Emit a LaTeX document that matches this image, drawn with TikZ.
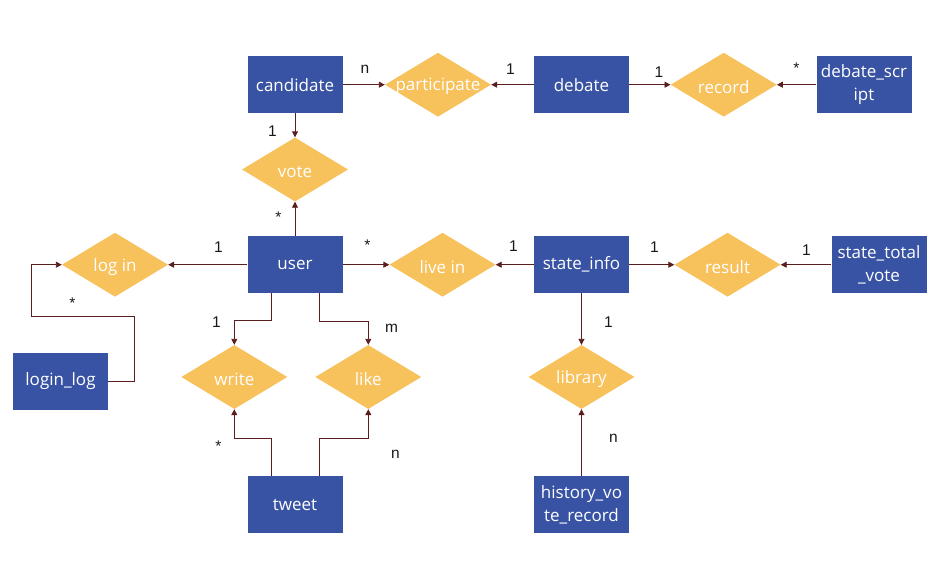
\documentclass[tikz,border=0pt]{standalone}
\usepackage{fontspec}
\setmainfont{Open Sans}
\newfontfamily\lblfont{Liberation Sans}
\usetikzlibrary{shapes.geometric,arrows.meta}
\definecolor{entblue}{RGB}{57,83,164}
\definecolor{relyellow}{RGB}{247,193,92}
\definecolor{linebrown}{RGB}{90,30,30}
\definecolor{lbltext}{RGB}{25,25,25}
\tikzset{
  entity/.style={rectangle, fill=entblue, text=white, minimum width=95pt, minimum height=57pt, inner sep=0pt, align=center, font=\fontsize{17}{23}\selectfont},
  rel/.style={diamond, fill=relyellow, minimum width=106pt, minimum height=64pt, inner sep=0pt},
  reltext/.style={text=white, inner sep=0pt, yshift=-2pt, font=\fontsize{17}{21}\selectfont},
  arr/.style={draw=linebrown, line width=0.9pt, -{Triangle[length=6pt,width=6pt]}},
  card/.style={text=lbltext, inner sep=0pt, font=\lblfont\fontsize{15.5}{18}\selectfont}
}
\begin{document}
\begin{tikzpicture}[x=1pt,y=-1pt]
\path[use as bounding box, fill=white] (0,0) rectangle (949,565);
% entities
\node[entity] (cand) at (295,84.7) {candidate};
\node[entity] (deb) at (581.5,84.7) {debate};
\node[entity] (dscr) at (864,84.7) {debate\_scr\\ipt};
\node[entity] (user) at (295,264.7) {user};
\node[entity] (llog) at (60.5,381) {login\_log};
\node[entity] (tweet) at (295,504.5) {tweet};
\node[entity] (sinfo) at (581.5,264.7) {state\_info};
\node[entity] (stv) at (879,264.7) {state\_total\\\_vote};
\node[entity] (hvr) at (581.5,504.5) {history\_vo\\te\_record};
% relationships
\node[rel, label={[reltext]center:participate}] (part) at (438,84.7) {};
\node[rel, label={[reltext]center:record}] (rec) at (723.7,84.7) {};
\node[rel, label={[reltext]center:vote}] (vote) at (295,169.5) {};
\node[rel, label={[reltext]center:log in}] (login) at (115,264.7) {};
\node[rel, label={[reltext]center:live in}] (live) at (442.5,264.7) {};
\node[rel, label={[reltext]center:result}] (res) at (727.5,264.7) {};
\node[rel, label={[reltext]center:write}] (write) at (234.3,377) {};
\node[rel, label={[reltext]center:like}] (like) at (368.3,377) {};
\node[rel, label={[reltext]center:library}] (lib) at (581.5,377) {};
% connectors
\draw[arr] (cand.east) -- (part.west);
\draw[arr] (deb.west) -- (part.east);
\draw[arr] (deb.east) -- (rec.west);
\draw[arr] (dscr.west) -- (rec.east);
\draw[arr] (cand.south) -- (vote.north);
\draw[arr] (user.north) -- (vote.south);
\draw[arr] (user.west) -- (login.east);
\draw[arr] (llog.east) -- (134,381) -- (134,316.3) -- (31.3,316.3) |- (login.west);
\draw[arr] (user.east) -- (live.west);
\draw[arr] (sinfo.west) -- (live.east);
\draw[arr] (sinfo.east) -- (res.west);
\draw[arr] (stv.west) -- (res.east);
\draw[arr] ([xshift=-24pt]user.south) |- (234.3,320) -- (write.north);
\draw[arr] ([xshift=24.3pt]user.south) |- (368.3,321) -- (like.north);
\draw[arr] ([xshift=-24pt]tweet.north) |- (234.3,438.3) -- (write.south);
\draw[arr] ([xshift=24.3pt]tweet.north) |- (368.3,438.3) -- (like.south);
\draw[arr] (sinfo.south) -- (lib.north);
\draw[arr] (hvr.north) -- (lib.south);
% cardinalities
\node[card] (c1) at (365,69) {n};
\node[card] (c2) at (510.5,69) {1};
\node[card] (c3) at (659,72) {1};
\node[card] (c4) at (796.5,68) {*};
\node[card] (c5) at (272.5,131) {1};
\node[card] (c6) at (278.5,217) {*};
\node[card] (c7) at (218.5,247) {1};
\node[card] (c8) at (72.5,303) {*};
\node[card] (c9) at (367.5,245) {*};
\node[card] (c10) at (513.5,246) {1};
\node[card] (c11) at (654.5,247) {1};
\node[card] (c12) at (806.5,250) {1};
\node[card] (c13) at (216.5,322) {1};
\node[card] (c14) at (391.5,328) {m};
\node[card] (c15) at (218.5,446) {*};
\node[card] (c16) at (395.5,454) {n};
\node[card] (c17) at (608.5,322) {1};
\node[card] (c18) at (613.5,438) {n};
\end{tikzpicture}
\end{document}
